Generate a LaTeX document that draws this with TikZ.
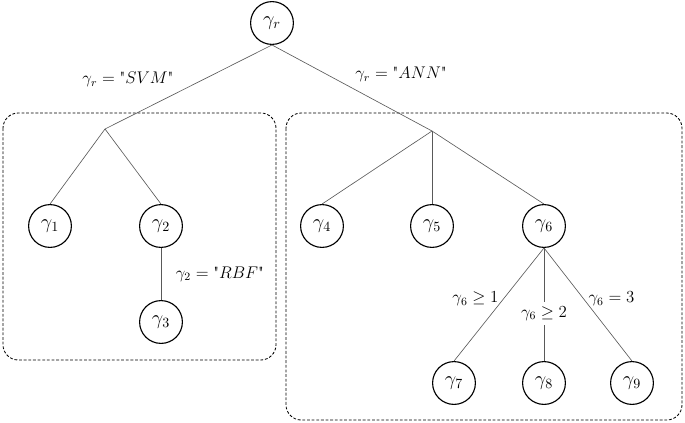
\documentclass[tikz,border=0pt]{standalone}
\usepackage{tikz}
\usepackage{amsmath}
\usepackage{amssymb}

\begin{document}
\begin{tikzpicture}[x=0.025cm,y=-0.025cm,
  main node/.style={circle,draw,line width=0.8pt,minimum size=1.07cm,inner sep=0pt,font=\Large},
  group box/.style={draw,dash pattern=on 2pt off 1.3pt,rounded corners=0.38cm,line width=0.6pt},
  every edge/.style={draw,black!65,line width=0.45pt}]

  \useasboundingbox (0,0) rectangle (685,422);

  % the two sub-trees
  \draw[group box] (3,113) rectangle (276,360);
  \draw[group box] (286,113) rectangle (682,420);

  \node[main node] (r) at (272,23) {$\gamma_r$};
  \node[main node] (1) at (50,226) {$\gamma_1$};
  \node[main node] (2) at (161,226) {$\gamma_2$};
  \node[main node] (3) at (161,322) {$\gamma_3$};
  \node[main node] (4) at (322,226) {$\gamma_4$};
  \node[main node] (5) at (432,226) {$\gamma_5$};
  \node[main node] (6) at (544,226) {$\gamma_6$};
  \node[main node] (7) at (454,383) {$\gamma_7$};
  \node[main node] (8) at (544,383) {$\gamma_8$};
  \node[main node] (9) at (632,383) {$\gamma_9$};

  \coordinate (s) at (105,129);
  \coordinate (a) at (432,131);

  \path[every node/.style={text=black,font=\fontsize{11.5}{13}\selectfont}]
    (r.south) edge node [pos=0.56,above left] {$\gamma_r = \mbox{\textquotedbl}SVM\mbox{\textquotedbl}$} (s)
    (r.south) edge node [pos=0.49,above right] {$\gamma_r = \mbox{\textquotedbl}ANN\mbox{\textquotedbl}$} (a)
    (s) edge (1.north)
    (s) edge (2.north)
    (2.south) edge node [right=7pt] {$\gamma_2 = \mbox{\textquotedbl}RBF\mbox{\textquotedbl}$} (3.north)
    (a) edge (4.north)
    (a) edge (5.north)
    (a) edge (6.north)
    (6.south) edge node [pos=0.45,left] {$\gamma_6 \geq 1$} (7.north)
    (6.south) edge node [pos=0.58,fill=white] {$\gamma_6 \geq 2$} (8.north)
    (6.south) edge node [pos=0.45,right] {$\gamma_6 = 3$} (9.north);
\end{tikzpicture}
\end{document}
